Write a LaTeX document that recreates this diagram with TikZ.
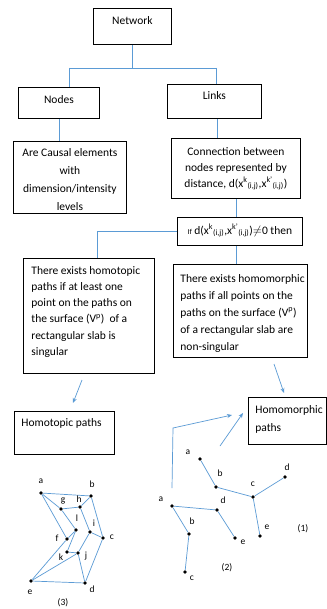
\documentclass[tikz,border=0pt]{standalone}
\usepackage{fontspec}
\setmainfont{Carlito}
\usetikzlibrary{arrows.meta,calc}
\definecolor{lblue}{RGB}{91,155,213}
\begin{document}
\begin{tikzpicture}[x=1pt,y=-1pt,
  box/.style={draw=black, line width=0.8pt, inner sep=0pt, anchor=north west},
  conn/.style={draw=lblue, line width=0.8pt},
  arr/.style={draw=lblue, line width=0.7pt, -{Stealth[length=5pt,width=4pt]}},
  dot/.style={circle, fill=black, inner sep=0pt, minimum size=3.6pt},
  gedge/.style={draw=lblue, line width=0.7pt},
  lab/.style={font=\fontsize{9.5}{10}\selectfont, inner sep=0pt}]
\useasboundingbox (0,0) rectangle (326,609);
\fill[white] (0,0) rectangle (326,609);

% boxes
\node[box] (net) at (93,8) {\parbox[c][36pt][t]{78pt}{\fontsize{11.5}{16}\selectfont\centering\rule{0pt}{15.8pt}Network}};
\node[box] (nodes) at (18,87) {\parbox[c][31pt][t]{81pt}{\fontsize{11.5}{16}\selectfont\centering\rule{0pt}{15.8pt}Nodes}};
\node[box] (links) at (167,84) {\parbox[c][34pt][t]{94pt}{\fontsize{11.5}{16}\selectfont\centering\rule{0pt}{14.8pt}Links}};
\node[box] (causal) at (13,141) {\parbox[c][72pt][t]{113pt}{\fontsize{11.5}{18}\selectfont\centering\rule{0pt}{14.8pt}Are Causal elements\\ with\\ dimension/intensity\\ levels}};
\node[box] (conn) at (171,138) {\parbox[c][60pt][t]{129pt}{\fontsize{11.5}{16}\selectfont\centering\rule{0pt}{16.8pt}Connection between\\ nodes represented by\\ distance, d(x\textsuperscript{k}\textsubscript{(i,j)},x\textsuperscript{k'}\textsubscript{(i,j)})}};
\node[box] (ifb) at (177,217) {\parbox[c][28pt][t]{125pt}{\fontsize{11.5}{16}\selectfont\centering\rule{0pt}{16.8pt}{\fontsize{7.5}{8}\selectfont If} d(x\textsuperscript{k}\textsubscript{(i,j)},x\textsuperscript{k'}\textsubscript{(i,j)})\ensuremath{\neq}0 then}};
\node[box] (hotop) at (23,258) {\parbox[c][115pt][t]{131pt}{\fontsize{11.5}{16.2}\selectfont\raggedright\leftskip=8pt\rule{0pt}{15.8pt}There exists homotopic\\ paths if at least one\\ point on the paths on\\ the surface (V\textsuperscript{p})~ of a\\ rectangular slab is\\ singular}};
\node[box] (homo) at (173,264) {\parbox[c][93pt][t]{134pt}{\fontsize{11.5}{17}\selectfont\raggedright\leftskip=7pt\rule{0pt}{17.8pt}There exists homomorphic\\ paths if all points on the\\ paths on the surface (V\textsuperscript{p})\\ of a rectangular slab are\\ non-singular}};
\node[box] (hpaths) at (14,411) {\parbox[c][43pt][t]{100pt}{\fontsize{11.5}{16}\selectfont\raggedright\leftskip=7pt\rule{0pt}{14.8pt}Homotopic paths}};
\node[box] (hmpaths) at (248,397) {\parbox[c][47pt][t]{77.5pt}{\fontsize{11.5}{18}\selectfont\raggedright\leftskip=7pt\rule{0pt}{15.8pt}Homomorphic\\ paths}};

% tree connectors
\coordinate (busL) at (69,68);
\coordinate (busR) at (216,68);
\draw[conn] (net.south) -- (net.south |- busL);
\draw[conn] (busL) -- (busR);
\draw[conn] (busL) -- (busL |- nodes.north);
\draw[conn] (busR) -- (busR |- links.north);
\draw[conn] (nodes.south) -- (nodes.south |- causal.north);
\draw[conn] ($(links.south)+(3,0)$) -- ($(links.south |- conn.north)+(3,0)$);
\draw[conn] (conn.south) -- (conn.south |- ifb.north);
\draw[conn] (ifb.west) -| ($(hotop.north)+(8.5,0)$);
\draw[conn] ($(ifb.south)+(-4,0)$) -- ($(ifb.south |- homo.north)+(-4,0)$);

% arrows
\coordinate (a1s) at (82,380); \coordinate (a1e) at (73,403);
\coordinate (a2s) at (274,364); \coordinate (a2e) at (284,393);
\coordinate (a3s) at (172,488); \coordinate (a3m) at (173,428); \coordinate (a3e) at (232,415);
\coordinate (a4s) at (220,446); \coordinate (a4e) at (243,413);
\draw[arr] (a1s) -- (a1e);
\draw[arr] (a2s) -- (a2e);
\draw[arr] (a3s) -- (a3m) -- (a3e);
\draw[arr] (a4s) -- (a4e);

% graph (3)
\node[dot] (ga) at (41,493) {};
\node[dot] (gb) at (91,496) {};
\node[dot] (gg) at (61,509) {};
\node[dot] (gh) at (80,507) {};
\node[dot] (gl) at (76,530) {};
\node[dot] (gi) at (90,532) {};
\node[dot] (gf) at (67,539) {};
\node[dot] (gc) at (103,538) {};
\node[dot] (gk) at (67,552) {};
\node[dot] (gj) at (78,553) {};
\node[dot] (ge) at (31,581) {};
\node[dot] (gd) at (85,583) {};
\foreach \u/\v in {ga/gb,ga/gg,ga/gf,gg/gh,gh/gb,gg/gl,gh/gi,gb/gc,gi/gc,gl/gf,gl/gk,gk/gj,gi/gj,gj/gd,gj/ge,ge/gd,gc/gd,gf/ge}
  \draw[gedge] (\u) -- (\v);
\node[lab] (la) at (41,481) {a};
\node[lab] (lb) at (92,484) {b};
\node[lab] (lg) at (63,501) {g};
\node[lab] (lh) at (79,499) {h};
\node[lab] (ll) at (77,518) {l};
\node[lab] (li) at (94,523) {i};
\node[lab] (lf) at (57,538) {f};
\node[lab] (lc) at (112,537) {c};
\node[lab] (lk) at (61,557) {k};
\node[lab] (lj) at (86,556) {j};
\node[lab] (le) at (30,592) {e};
\node[lab] (ld) at (92,589) {d};
\node[lab] (l3) at (63,603) {(3)};

% graph (1)
\node[dot] (pa) at (200,459) {};
\node[dot] (pb) at (216,487) {};
\node[dot] (pc) at (253,497) {};
\node[dot] (pd) at (285,477) {};
\node[dot] (pe) at (260,536) {};
\foreach \u/\v in {pa/pb,pb/pc,pc/pd,pc/pe}
  \draw[gedge] (\u) -- (\v);
\node[lab] (pla) at (188,452) {a};
\node[lab] (plb) at (220,473) {b};
\node[lab] (plc) at (253,484) {c};
\node[lab] (pld) at (287,467) {d};
\node[lab] (ple) at (267,527) {e};
\node[lab] (pl1) at (303,529) {(1)};

% graph (2)
\node[dot] (qa) at (172,506) {};
\node[dot] (qd) at (217,510) {};
\node[dot] (qb) at (189,534) {};
\node[dot] (qe) at (235,538) {};
\node[dot] (qc) at (185,572) {};
\foreach \u/\v in {qa/qd,qd/qe,qa/qb,qb/qc}
  \draw[gedge] (\u) -- (\v);
\node[lab] (qla) at (161,499) {a};
\node[lab] (qld) at (223,500) {d};
\node[lab] (qlb) at (192,521) {b};
\node[lab] (qle) at (243,542) {e};
\node[lab] (qlc) at (192,578) {c};
\node[lab] (ql2) at (227,568) {(2)};
\end{tikzpicture}
\end{document}
